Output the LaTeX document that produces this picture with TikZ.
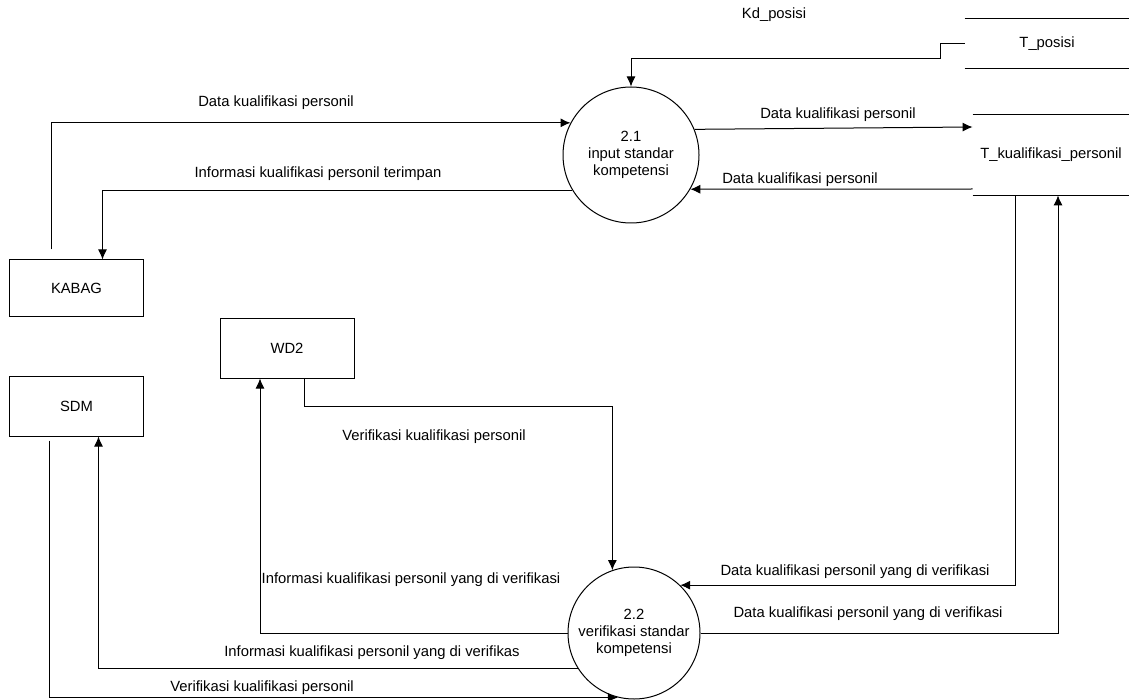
\documentclass[tikz,border=0pt]{standalone}
\usepackage{fontspec}
\setmainfont{Liberation Sans}
\usepackage{tikz}
\usetikzlibrary{calc}
\usetikzlibrary{arrows.meta}
\usetikzlibrary{positioning}

\begin{document}
\begin{tikzpicture}[
x=0.5pt,y=-0.5pt,
Entity/.style={draw=black,line width=0.5pt,minimum width=67pt,minimum height=30pt,inner sep=0pt},
Process/.style={circle,draw=black,line width=0.5pt,minimum size=68pt,inner sep=0pt,align=center},
Store/.style={inner sep=0pt},
StoreLine/.style={draw=black,line width=0.5pt},
Flow/.style={draw=black,line width=0.5pt,-{Latex[length=5pt, width=4.5pt]}},
every node/.style={font=\fontsize{7.4}{8.6}\selectfont}
]
%\draw[gray!30,step=50] (0,0) grid (1129,700);
\useasboundingbox (0,0) rectangle (1129,700);

\node[Entity,minimum height=28pt] (kabag) at (76.5,288) {KABAG};
\node[Entity] (sdm) at (76.5,406) {SDM};
\node[Entity] (wd2) at (287,348) {WD2};

\node[Process] (p21) at (631,155) {2.1\\input standar\\kompetensi};
\node[Process,minimum size=66pt] (p22) at (634,633) {2.2\\verifikasi standar\\kompetensi};

\node[Store,minimum width=82pt,minimum height=24.5pt] (tposisi) at (1047,43.5) {T\_posisi};
\node[Store,minimum width=78pt,minimum height=40pt] (tkual) at (1051,155) {T\_kualifikasi\_personil};

\draw[StoreLine] (tposisi.north west) -- (tposisi.north east) (tposisi.south west) -- (tposisi.south east);
\draw[StoreLine] (tkual.north west) -- (tkual.north east) (tkual.south west) -- (tkual.south east);


\draw[Flow] (tposisi.west) -- ++(-24,0) -- ++(0,15) -| (p21.north);
\node (kdposisi) at (774,15) {Kd\_posisi};

\draw[Flow] ($(kabag.north)+(-25,-10)$) |- (p21.152);
\node (dataIn) at (276,103) {Data kualifikasi personil};

\draw[Flow] (p21.211) -| ($(kabag.north)+(26,0)$);
\node (infoSaved) at (318,174) {Informasi kualifikasi personil terimpan};

\draw[Flow] (p21.22) -- ($(tkual.west)+(0,-28)$);
\node (dataSave) at (838,115) {Data kualifikasi personil};

\draw[Flow] ($(tkual.west)+(0,34)$) -- (p21.-30);
\node (dataLoad) at (800,180) {Data kualifikasi personil};


\draw[Flow] ($(wd2.south)+(17,0)$) -- ++(0,28) -| (p22.109);
\node (verifWd) at (434,437) {Verifikasi kualifikasi personil};

\draw[Flow] (p22.west) -| ($(wd2.south)+(-27,0)$);
\node (infoWd) at (411,580) {Informasi kualifikasi personil yang di verifikasi};

\draw[Flow] (p22.212) -| ($(sdm.south)+(22,0)$);
\node (infoSdm) at (372,653) {Informasi kualifikasi personil yang di verifikas};

\draw[Flow] ($(sdm.south)+(-27,4)$) |- (p22.256);
\node (verifSdm) at (262,688) {Verifikasi kualifikasi personil};

\draw[Flow] ($(tkual.south)+(-36,0)$) |- (p22.46);
\node (dataVerLoad) at (855,572) {Data kualifikasi personil yang di verifikasi};

\draw[Flow] (p22.east) -| ($(tkual.south)+(7,0)$);
\node (dataVerSave) at (868,614) {Data kualifikasi personil yang di verifikasi};

\end{tikzpicture}
\end{document}
